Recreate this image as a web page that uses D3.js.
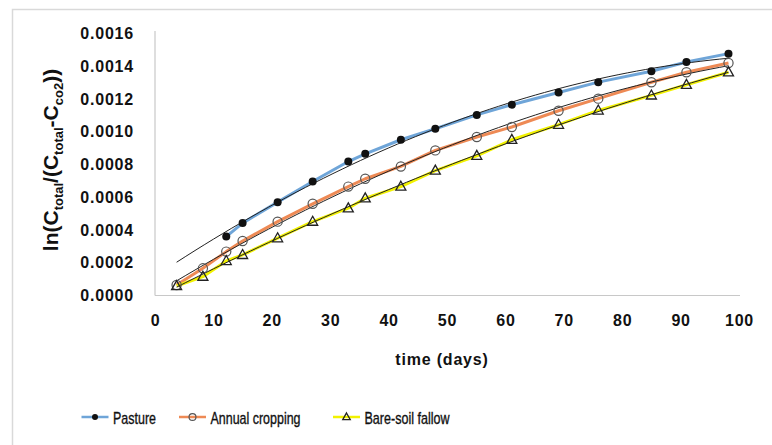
<!DOCTYPE html>
<html>
<head>
<meta charset="utf-8">
<script src="https://cdn.jsdelivr.net/npm/d3@7/dist/d3.min.js"></script>
<style>
  html, body { margin: 0; padding: 0; background: #fff; }
  svg { display: block; }
</style>
</head>
<body>
<svg id="chart" width="772" height="445"></svg>
<script>
// ---- data ----
const days = [3.7, 8.2, 12.2, 15.0, 21.0, 27.0, 33.1, 36.0, 42.1, 48.0, 55.1, 61.1, 69.1, 75.9, 85.0, 91.0, 98.2];
const pasture = [null, null, 0.000357, 0.000439, 0.000567, 0.000693, 0.000815, 0.000862, 0.000948, 0.001015, 0.001100, 0.001162, 0.001237, 0.001300, 0.001366, 0.001423, 0.001474];
const annualCropping = [0.000061, 0.000163, 0.000265, 0.000330, 0.000448, 0.000557, 0.000662, 0.000710, 0.000785, 0.000883, 0.000965, 0.001026, 0.001125, 0.001199, 0.001299, 0.001360, 0.001417];
const bareSoilFallow = [0.000055, 0.000112, 0.000208, 0.000245, 0.000347, 0.000448, 0.000530, 0.000591, 0.000662, 0.000760, 0.000850, 0.000948, 0.001040, 0.001127, 0.001219, 0.001284, 0.001360];
const seriesNames = ["Pasture", "Annual cropping", "Bare-soil fallow"];
const xTicks = [0, 10, 20, 30, 40, 50, 60, 70, 80, 90, 100];
const yTicks = [0, 0.0002, 0.0004, 0.0006, 0.0008, 0.0010, 0.0012, 0.0014, 0.0016];

const svg = d3.select("#chart");
const FONT = "'Liberation Sans', Arial, sans-serif";

// frame
svg.append("path").attr("d", "M12.5,445 V9.5 H772")
  .attr("fill", "none").attr("stroke", "#d9d9d9").attr("stroke-width", 1.5);

const x = d3.scaleLinear().domain([0, 100]).range([155, 739]);
const y = d3.scaleLinear().domain([0, 0.0016]).range([295, 33]);

// axis lines
svg.append("line").attr("x1", 155).attr("x2", 155).attr("y1", 31).attr("y2", 295.5)
  .attr("stroke", "#c8c8c8").attr("stroke-width", 1.2);
svg.append("line").attr("x1", 155).attr("x2", 740).attr("y1", 295.5).attr("y2", 295.5)
  .attr("stroke", "#c8c8c8").attr("stroke-width", 1.2);

// tick labels via axes (no domain/tick lines)
const yAxis = d3.axisLeft(y).tickValues(yTicks).tickFormat(d3.format(".4f")).tickSize(0).tickPadding(0);
const gy = svg.append("g").attr("transform", "translate(134,0)").call(yAxis);
gy.select(".domain").remove();
gy.selectAll("text").attr("font-family", FONT).attr("font-size", 16).attr("font-weight", "bold")
  .attr("fill", "#111").attr("letter-spacing", "0.8px").attr("dy", "0.35em");

const xAxis = d3.axisBottom(x).tickValues(xTicks).tickFormat(d3.format("d")).tickSize(0).tickPadding(0);
const gx = svg.append("g").attr("transform", "translate(0,320)").call(xAxis);
gx.select(".domain").remove();
gx.selectAll("text").attr("font-family", FONT).attr("font-size", 16).attr("font-weight", "bold")
  .attr("fill", "#111").attr("letter-spacing", "0.8px").attr("dy", "0.35em");

// axis titles
svg.append("text").attr("x", 442).attr("y", 364.5).attr("text-anchor", "middle")
  .attr("font-family", FONT).attr("font-size", 16).attr("font-weight", "bold")
  .attr("letter-spacing", "0.8px").attr("fill", "#111").text("time (days)");

const yt = svg.append("text").attr("transform", "translate(58,160) rotate(-90)")
  .attr("text-anchor", "middle").attr("font-family", FONT).attr("font-size", 21)
  .attr("font-weight", "bold").attr("fill", "#111");
const parts = [["ln(C", 0], ["total", 1], ["/(C", 0], ["total", 1], ["-C", 0], ["co2", 1], ["))", 0]];
let prevSub = 0;
parts.forEach(([t, sub]) => {
  const dy = sub && !prevSub ? 5 : (!sub && prevSub ? -5 : 0);
  yt.append("tspan").attr("dy", dy).attr("font-size", sub ? 13 : 21).text(t);
  prevSub = sub;
});

// series
const series = [
  { name: seriesNames[0], values: pasture, color: "#6fa5d8", marker: "filled" },
  { name: seriesNames[1], values: annualCropping, color: "#ee8a55", marker: "open" },
  { name: seriesNames[2], values: bareSoilFallow, color: "#f2f200", marker: "tri" }
];
series.forEach(s => {
  s.pts = days.map((d, i) => ({ d, v: s.values[i] })).filter(p => p.v != null);
});

// quadratic least-squares trend line (like a spreadsheet polynomial trendline)
function quadFit(pts) {
  let S = [0, 0, 0, 0, 0], T = [0, 0, 0];
  pts.forEach(p => {
    for (let k = 0; k < 5; k++) S[k] += Math.pow(p.d, k);
    for (let k = 0; k < 3; k++) T[k] += p.v * Math.pow(p.d, k);
  });
  const A = [[S[0], S[1], S[2], T[0]], [S[1], S[2], S[3], T[1]], [S[2], S[3], S[4], T[2]]];
  for (let i = 0; i < 3; i++) {
    for (let j = i + 1; j < 3; j++) {
      const f = A[j][i] / A[i][i];
      for (let k = i; k < 4; k++) A[j][k] -= f * A[i][k];
    }
  }
  const c = [0, 0, 0];
  for (let i = 2; i >= 0; i--) {
    let s = A[i][3];
    for (let k = i + 1; k < 3; k++) s -= A[i][k] * c[k];
    c[i] = s / A[i][i];
  }
  return d => c[0] + c[1] * d + c[2] * d * d;
}

const line = d3.line().x(p => x(p.d)).y(p => y(p.v));

series.forEach(s => {
  svg.append("path").datum(s.pts).attr("d", line)
    .attr("fill", "none").attr("stroke", s.color).attr("stroke-width", 3).attr("stroke-linejoin", "round");
});

series.forEach(s => {
  const f = quadFit(s.pts);
  const d0 = days[0], d1 = days[days.length - 1];
  const tp = d3.range(0, 61).map(i => { const d = d0 + (d1 - d0) * i / 60; return { d, v: f(d) }; });
  svg.append("path").datum(tp).attr("d", line)
    .attr("fill", "none").attr("stroke", "#222").attr("stroke-width", 1);
});

const triPath = (cx, cy, w) => {
  const h = w * 0.9;
  return `M${cx},${cy - h * 0.6} L${cx + w / 2},${cy + h * 0.4} L${cx - w / 2},${cy + h * 0.4} Z`;
};

function drawMarker(g, type, cx, cy, scale) {
  if (type === "filled") {
    g.append("circle").attr("cx", cx).attr("cy", cy).attr("r", 4 * scale).attr("fill", "#111");
  } else if (type === "open") {
    g.append("circle").attr("cx", cx).attr("cy", cy).attr("r", 4.6 * scale)
      .attr("fill", "none").attr("stroke", "#555").attr("stroke-width", 1.2);
  } else {
    g.append("path").attr("d", triPath(cx, cy, 10 * scale))
      .attr("fill", "none").attr("stroke", "#222").attr("stroke-width", 1.3).attr("stroke-linejoin", "miter");
  }
}

series.forEach(s => {
  const g = svg.append("g");
  s.pts.forEach(p => drawMarker(g, s.marker, x(p.d), y(p.v), 1));
});

// legend
const legendX = [81.5, 179, 333];
const legendW = [43, 90, 85];
series.forEach((s, i) => {
  const g = svg.append("g");
  const lx = legendX[i];
  g.append("line").attr("x1", lx).attr("x2", lx + 27).attr("y1", 417).attr("y2", 417)
    .attr("stroke", s.color).attr("stroke-width", 2.5);
  drawMarker(g, s.marker, lx + 13.5, 417, 0.75);
  g.append("text").attr("x", lx + 31.5).attr("y", 423.5).attr("font-family", FONT)
    .attr("font-size", 17).attr("fill", "#111").attr("stroke", "#111").attr("stroke-width", 0.35)
    .attr("textLength", legendW[i]).attr("lengthAdjust", "spacingAndGlyphs").text(s.name);
});
</script>
</body>
</html>
